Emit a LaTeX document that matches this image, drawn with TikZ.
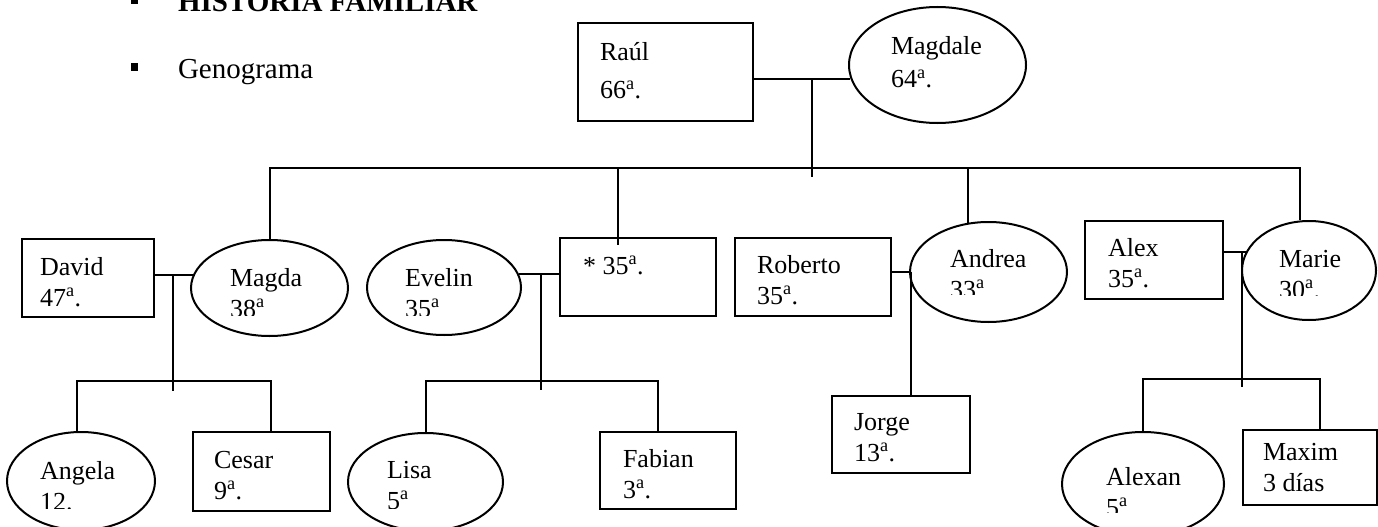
\documentclass[tikz,border=0pt]{standalone}
\usepackage{fontspec}
\setmainfont{Liberation Serif}
\usetikzlibrary{shapes.geometric, positioning}

\newcommand{\ed}{\textsuperscript{a}}
% label whose second line is cut off by the shape
\newcommand{\cutlabel}[5]{%
  \begin{scope}
    \clip (#2-10,#3-40) rectangle (#2+150,#4);
    \node [lbl] (#1) at (#2,#3+31) {#5};
  \end{scope}}

\begin{document}
\begin{tikzpicture}[x=1pt, y=-1pt, line width=2pt,
    male/.style={rectangle, draw, inner sep=0pt},
    female/.style={ellipse, draw, inner sep=0pt},
    lbl/.style={anchor=base west, inner sep=0pt, align=left, font=\fontsize{26}{31}\selectfont},
    head/.style={anchor=base west, inner sep=0pt, font=\fontsize{29}{34}\selectfont}]
    \useasboundingbox (0,0) rectangle (1378,527);

    \fill (131,-3) rectangle (138,4);
    \fill (131,63) rectangle (138,71);
    \node [head, font=\fontsize{29}{34}\selectfont\bfseries] (title) at (177,12) {HISTORIA FAMILIAR};
    \node [head] (geno) at (177,78) {Genograma};

    % people
    \node [male, minimum width=175pt, minimum height=98pt] (raul) at (665.5,72) {};
    \node [female, minimum width=177pt, minimum height=116pt] (magdale) at (937.5,65) {};
    \node [male, minimum width=132pt, minimum height=78pt] (david) at (88,278) {};
    \node [female, minimum width=157pt, minimum height=96pt] (magda) at (269.5,288) {};
    \node [female, minimum width=154pt, minimum height=95pt] (evelin) at (444,287.5) {};
    \node [male, minimum width=156pt, minimum height=78pt] (pareja) at (638,277) {};
    \node [male, minimum width=156pt, minimum height=78pt] (roberto) at (813,277) {};
    \node [female, minimum width=157pt, minimum height=100pt] (andrea) at (988.5,272) {};
    \node [male, minimum width=138pt, minimum height=78pt] (alex) at (1154,260) {};
    \node [female, minimum width=134pt, minimum height=99pt] (marie) at (1309,270.5) {};
    \node [female, minimum width=148pt, minimum height=98pt] (angela) at (81,481) {};
    \node [male, minimum width=137pt, minimum height=79pt] (cesar) at (261.5,471.5) {};
    \node [female, minimum width=155pt, minimum height=98pt] (lisa) at (425.5,482) {};
    \node [male, minimum width=136pt, minimum height=77pt] (fabian) at (668,470.5) {};
    \node [male, minimum width=138pt, minimum height=77pt] (jorge) at (901,434.5) {};
    \node [female, minimum width=162pt, minimum height=104pt] (alexan) at (1143,484) {};
    \node [male, minimum width=134pt, minimum height=75pt] (maxim) at (1310,467.5) {};

    % names and ages (placed on the last baseline)
    \node [lbl] (raul-t) at (599,99) {Raúl\\[8pt]66\ed.};
    \node [lbl] (magdale-t) at (890,88) {Magdale\\[2pt]64\ed.};
    \node [lbl] (david-t) at (39,306) {David\\47\ed.};
    \node [lbl] (pareja-t) at (582,274) {* 35\ed.};
    \node [lbl] (roberto-t) at (756,304) {Roberto\\35\ed.};
    \node [lbl] (alex-t) at (1107,287) {Alex\\35\ed.};
    \node [lbl] (cesar-t) at (213,499) {Cesar\\9\ed.};
    \node [lbl] (fabian-t) at (622,498) {Fabian\\3\ed.};
    \node [lbl] (jorge-t) at (853,461) {Jorge\\13\ed.};
    \node [lbl] (maxim-t) at (1262,491) {Maxim\\3 días};
    \cutlabel{magda-t}{229}{286}{315}{Magda\\38\ed}
    \cutlabel{evelin-t}{404}{286}{315}{Evelin\\35\ed}
    \cutlabel{andrea-t}{949}{267}{294}{Andrea\\33\ed.}
    \cutlabel{marie-t}{1278}{267}{295}{Marie\\30\ed.}
    \cutlabel{angela-t}{39}{479}{508}{Angela\\12.}
    \cutlabel{lisa-t}{386}{478}{508}{Lisa\\5\ed}
    \cutlabel{alexan-t}{1105}{485}{512}{Alexan\\5\ed}

    % grandparents
    \coordinate (p0) at (812,177);
    \draw (raul.east |- magdale.189) -- (magdale.189);
    \draw (p0 |- magdale.189) -- (p0);

    % siblings line
    \coordinate (s1) at (618,168);
    \coordinate (s1e) at (618,245);
    \draw (magda.north) -- (magda.north |- s1) -- (marie.100 |- s1) -- (marie.100);
    \draw (s1) -- (s1e);
    \draw (andrea.113) -- (andrea.113 |- s1);

    % David and Magda
    \coordinate (k1) at (173,391);
    \coordinate (h1) at (77,381);
    \coordinate (h2) at (271,381);
    \draw (david.east |- magda.170) -- (magda.170);
    \draw (k1 |- magda.170) -- (k1);
    \draw (h1 |- angela.north) -- (h1) -- (h2) -- (h2 |- cesar.north);

    % Evelin
    \coordinate (k2) at (541,390);
    \coordinate (h3) at (658,381);
    \draw (evelin.10) -- (pareja.west |- evelin.10);
    \draw (k2 |- evelin.10) -- (k2);
    \draw (lisa.north) |- (h3) -- (h3 |- fabian.north);

    % Roberto and Andrea
    \coordinate (k3) at (911,0);
    \draw (roberto.east |- andrea.west) -- (andrea.west);
    \draw (k3 |- andrea.west) -- (k3 |- jorge.north);

    % Alex and Marie
    \coordinate (k4) at (1242,387);
    \coordinate (h4) at (1320,379);
    \draw (alex.east |- marie.164) -- (marie.164);
    \draw (k4 |- marie.164) -- (k4);
    \draw (alexan.north) |- (h4) -- (h4 |- maxim.north);
\end{tikzpicture}
\end{document}
